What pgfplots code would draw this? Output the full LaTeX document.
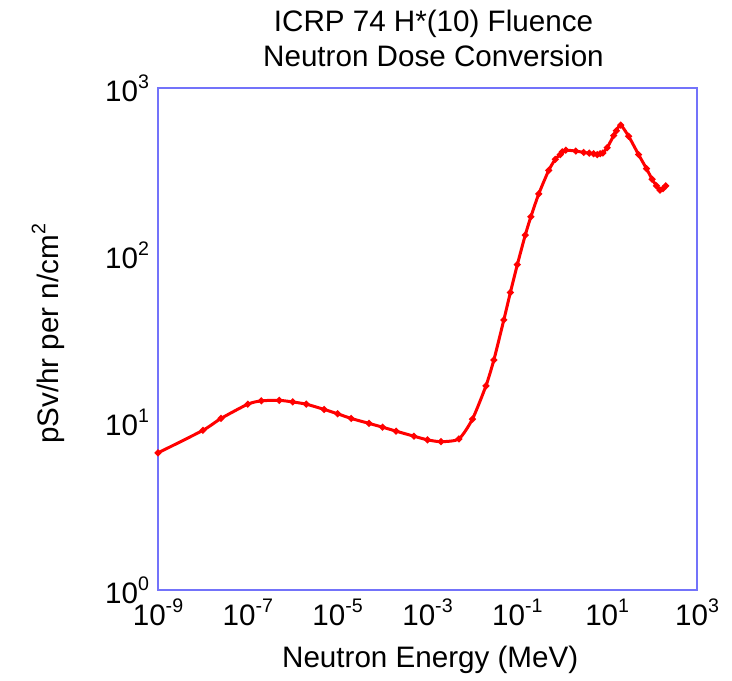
\documentclass[border=0pt]{standalone}
\usepackage{fontspec}
\setmainfont{Liberation Sans}
\usepackage{pgfplots}
\pgfplotsset{compat=1.18}
\definecolor{boxblue}{RGB}{115,115,250}
\newcommand{\supx}[1]{\raisebox{6.5pt}{\fontsize{9.8}{10}\selectfont #1}}
\newcommand{\lbl}{\fontsize{14.8}{17.5}\selectfont}

\begin{document}
\begin{tikzpicture}
  \begin{axis}[
      scale only axis,
      width=269.5pt, height=251pt,
      xmode=log, ymode=log,
      xmin=1e-9, xmax=1e3,
      ymin=1, ymax=1000,
      clip=false,
      axis line style={boxblue, line width=1pt},
      tick style={draw=none},
      minor xtick={}, minor ytick={},
      xtick={1e-9,1e-7,1e-5,1e-3,1e-1,1e1,1e3},
      xticklabels={10\supx{-9},10\supx{-7},10\supx{-5},10\supx{-3},10\supx{-1},10\supx{1},10\supx{3}},
      ytick={1,10,100,1000},
      yticklabels={10\supx{0},10\supx{1},10\supx{2},10\supx{3}},
      tick label style={font=\lbl},
      xticklabel style={yshift=-1pt},
      yticklabel style={xshift=-1pt},
      title={ICRP 74 H*(10) Fluence\\Neutron Dose Conversion},
      title style={font=\lbl, align=center, yshift=1pt, xshift=3pt},
      xlabel={Neutron Energy (MeV)},
      ylabel={pSv/hr per n/cm\supx{2}},
      label style={font=\lbl},
      xlabel style={at={(axis description cs:0.505,-0.139)}, anchor=center},
      ylabel style={at={(axis description cs:-0.204,0.51)}, anchor=center},
    ]
    \addplot[color=red, line width=1.5pt, smooth, tension=0.4, mark=*, mark size=0.8pt] coordinates {
      (1e-9, 6.60) (1e-8, 9.00) (2.53e-8, 10.6) (1e-7, 12.9) (2e-7, 13.5)
      (5e-7, 13.6) (1e-6, 13.3) (2e-6, 12.9) (5e-6, 12.0) (1e-5, 11.3)
      (2e-5, 10.6) (5e-5, 9.90) (1e-4, 9.40) (2e-4, 8.90) (5e-4, 8.30)
      (1e-3, 7.90) (2e-3, 7.70) (5e-3, 8.00) (1e-2, 10.5) (2e-2, 16.6)
      (3e-2, 23.7) (5e-2, 41.1) (7e-2, 60.0) (0.1, 88.0) (0.15, 132)
      (0.2, 170) (0.3, 233) (0.5, 322) (0.7, 375) (0.9, 400)
      (1, 416) (1.2, 425) (2, 420) (3, 412) (4, 408)
      (5, 405) (6, 400) (7, 405) (8, 409) (10, 440)
      (14, 520) (16, 555) (20, 600) (30, 515) (50, 400)
      (75, 330) (100, 285) (125, 260) (150, 245) (175, 250) (201, 260)
    };
    \path (axis description cs:-0.2931,-0.1693) rectangle (axis description cs:1.0649,1.1753);
  \end{axis}
\end{tikzpicture}
\end{document}
